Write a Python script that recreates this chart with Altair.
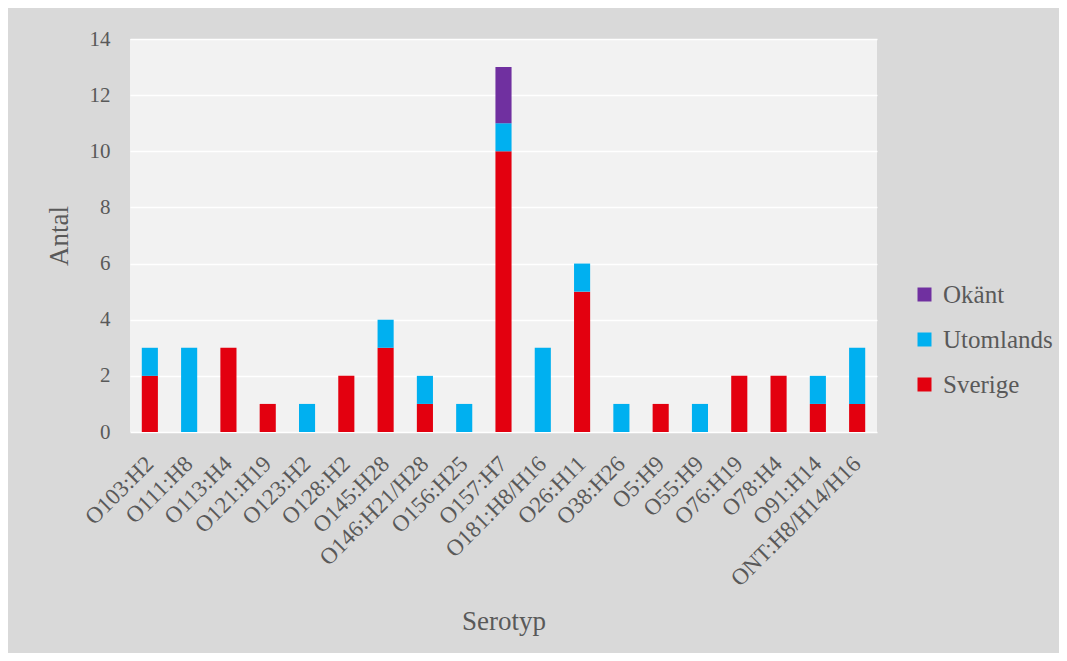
import altair as alt
import pandas as pd

categories = ["O103:H2", "O111:H8", "O113:H4", "O121:H19", "O123:H2", "O128:H2",
              "O145:H28", "O146:H21/H28", "O156:H25", "O157:H7", "O181:H8/H16",
              "O26:H11", "O38:H26", "O5:H9", "O55:H9", "O76:H19", "O78:H4",
              "O91:H14", "ONT:H8/H14/H16"]
sverige = [2, 0, 3, 1, 0, 2, 3, 1, 0, 10, 0, 5, 0, 1, 0, 2, 2, 1, 1]
utomlands = [1, 3, 0, 0, 1, 0, 1, 1, 1, 1, 3, 1, 1, 0, 1, 0, 0, 1, 2]
okant = [0, 0, 0, 0, 0, 0, 0, 0, 0, 2, 0, 0, 0, 0, 0, 0, 0, 0, 0]
series = ["Sverige", "Utomlands", "Okänt"]
colors = ["#E3000F", "#00B0F0", "#7030A0"]

rows = []
for i, c in enumerate(categories):
    for k, (name, vals) in enumerate(zip(series, [sverige, utomlands, okant])):
        if vals[i] > 0:
            rows.append({"Serotyp": c, "Ursprung": name, "Antal": vals[i], "ord": k})
df = pd.DataFrame(rows)

FONT = "Liberation Serif"
GREY = "#595959"

chart = alt.Chart(df).mark_bar().encode(
    x=alt.X("Serotyp:N", sort=categories,
            scale=alt.Scale(paddingInner=0.59, paddingOuter=0.3),
            axis=alt.Axis(title="Serotyp", labelAngle=-45, labelAlign="right",
                          labelBaseline="middle", labelFontSize=23, labelColor=GREY,
                          labelFont=FONT, labelPadding=28, ticks=False, domain=False,
                          titleFont=FONT, titleFontSize=27, titleColor=GREY,
                          titleFontWeight="normal", titlePadding=18)),
    y=alt.Y("Antal:Q", scale=alt.Scale(domain=[0, 14]),
            axis=alt.Axis(title="Antal", values=list(range(0, 15, 2)),
                          labelFontSize=21, labelColor=GREY, labelFont=FONT,
                          labelPadding=20, ticks=False, domain=False,
                          gridColor="#ffffff", gridWidth=1.3,
                          titleFont=FONT, titleFontSize=27, titleColor=GREY,
                          titleFontWeight="normal", titlePadding=16)),
    color=alt.Color("Ursprung:N",
                    scale=alt.Scale(domain=["Okänt", "Utomlands", "Sverige"],
                                    range=[colors[2], colors[1], colors[0]]),
                    legend=alt.Legend(title=None, orient="none", legendX=782,
                                      legendY=243, symbolType="square",
                                      symbolSize=196, symbolStrokeWidth=0,
                                      labelFont=FONT, labelFontSize=25,
                                      labelColor=GREY, labelOffset=6,
                                      rowPadding=19)),
    order=alt.Order("ord:Q"),
).properties(
    width=747, height=393,
    background="#d9d9d9",
    padding={"left": 122, "top": 31, "right": 182, "bottom": 221},
    autosize=alt.AutoSizeParams(type="none"),
).configure(
    font=FONT
).configure_view(
    fill="#f2f2f2", stroke=None
)

chart.save("out.html", embed_options={"renderer": "svg", "actions": False})
